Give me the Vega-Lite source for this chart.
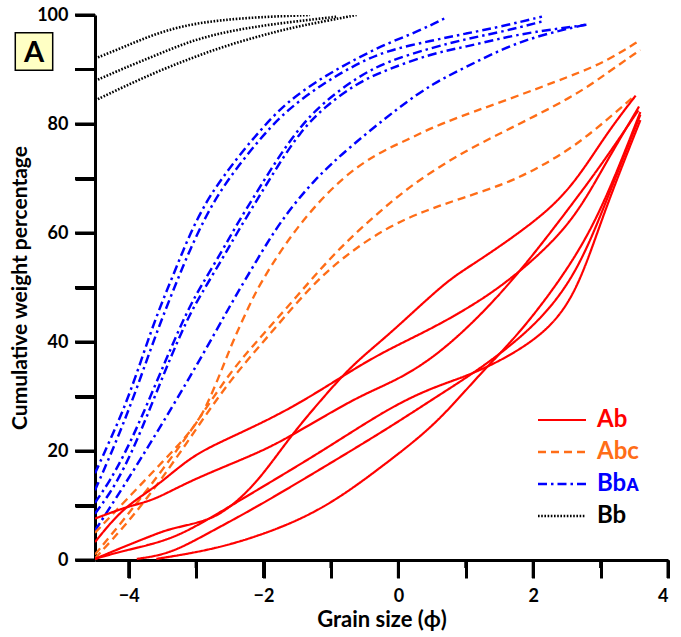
{
  "$schema": "https://vega.github.io/schema/vega-lite/v6.json",
  "width": 573,
  "height": 545,
  "autosize": "none",
  "padding": {"left": 95, "top": 15, "right": 13, "bottom": 77},
  "background": "white",
  "config": {
    "view": {"stroke": null},
    "axis": {
      "grid": false,
      "domainColor": "#000000",
      "domainWidth": 3,
      "labelFont": "Lato",
      "labelFontWeight": "bold",
      "labelFontSize": 18,
      "labelColor": "#000000",
      "titleFont": "Lato",
      "titleFontWeight": "bold",
      "titleColor": "#000000"
    }
  },
  "datasets": {
    "curves": [
      {"g":"Bb","s":"K1","x":-4.5,"y":92.0},{"g":"Bb","s":"K1","x":-4.08,"y":94.1},{"g":"Bb","s":"K1","x":-3.58,"y":96.7},{"g":"Bb","s":"K1","x":-3.09,"y":98.3},{"g":"Bb","s":"K1","x":-2.6,"y":99.1},{"g":"Bb","s":"K1","x":-2.1,"y":99.6},{"g":"Bb","s":"K1","x":-1.31,"y":100},
      {"g":"Bb","s":"K2","x":-4.5,"y":87.9},{"g":"Bb","s":"K2","x":-4.08,"y":90.2},{"g":"Bb","s":"K2","x":-3.58,"y":92.7},{"g":"Bb","s":"K2","x":-3.09,"y":95.2},{"g":"Bb","s":"K2","x":-2.6,"y":96.8},{"g":"Bb","s":"K2","x":-2.1,"y":97.9},{"g":"Bb","s":"K2","x":-1.61,"y":98.7},{"g":"Bb","s":"K2","x":-1.12,"y":99.4},{"g":"Bb","s":"K2","x":-0.9,"y":99.7},
      {"g":"Bb","s":"K3","x":-4.5,"y":84.3},{"g":"Bb","s":"K3","x":-4.08,"y":86.8},{"g":"Bb","s":"K3","x":-3.58,"y":89.6},{"g":"Bb","s":"K3","x":-3.09,"y":92.0},{"g":"Bb","s":"K3","x":-2.6,"y":94.2},{"g":"Bb","s":"K3","x":-2.1,"y":96.0},{"g":"Bb","s":"K3","x":-1.61,"y":97.6},{"g":"Bb","s":"K3","x":-1.12,"y":98.8},{"g":"Bb","s":"K3","x":-0.62,"y":100},

      {"g":"Bbᴀ","s":"B1","x":-4.5,"y":15.9},{"g":"Bbᴀ","s":"B1","x":-4.28,"y":21.9},{"g":"Bbᴀ","s":"B1","x":-4.08,"y":27.5},{"g":"Bbᴀ","s":"B1","x":-3.88,"y":34.2},{"g":"Bbᴀ","s":"B1","x":-3.68,"y":41.6},{"g":"Bbᴀ","s":"B1","x":-3.5,"y":47.5},{"g":"Bbᴀ","s":"B1","x":-3.29,"y":53.8},{"g":"Bbᴀ","s":"B1","x":-3.09,"y":59.9},{"g":"Bbᴀ","s":"B1","x":-2.84,"y":66.0},{"g":"Bbᴀ","s":"B1","x":-2.6,"y":70.3},{"g":"Bbᴀ","s":"B1","x":-2.3,"y":75.2},{"g":"Bbᴀ","s":"B1","x":-2.0,"y":79.5},{"g":"Bbᴀ","s":"B1","x":-1.66,"y":84.0},{"g":"Bbᴀ","s":"B1","x":-1.11,"y":88.7},{"g":"Bbᴀ","s":"B1","x":-0.62,"y":92.0},{"g":"Bbᴀ","s":"B1","x":-0.17,"y":94.8},{"g":"Bbᴀ","s":"B1","x":0.3,"y":97.0},{"g":"Bbᴀ","s":"B1","x":0.72,"y":99.6},
      {"g":"Bbᴀ","s":"B2","x":-4.5,"y":12.8},{"g":"Bbᴀ","s":"B2","x":-4.28,"y":19.0},{"g":"Bbᴀ","s":"B2","x":-4.08,"y":25.0},{"g":"Bbᴀ","s":"B2","x":-3.88,"y":31.5},{"g":"Bbᴀ","s":"B2","x":-3.68,"y":38.5},{"g":"Bbᴀ","s":"B2","x":-3.5,"y":44.5},{"g":"Bbᴀ","s":"B2","x":-3.29,"y":51.0},{"g":"Bbᴀ","s":"B2","x":-3.09,"y":57.0},{"g":"Bbᴀ","s":"B2","x":-2.84,"y":63.5},{"g":"Bbᴀ","s":"B2","x":-2.6,"y":68.5},{"g":"Bbᴀ","s":"B2","x":-2.3,"y":73.5},{"g":"Bbᴀ","s":"B2","x":-2.0,"y":78.0},{"g":"Bbᴀ","s":"B2","x":-1.66,"y":82.5},{"g":"Bbᴀ","s":"B2","x":-1.11,"y":87.5},{"g":"Bbᴀ","s":"B2","x":-0.62,"y":91.0},{"g":"Bbᴀ","s":"B2","x":-0.17,"y":93.5},{"g":"Bbᴀ","s":"B2","x":0.5,"y":95.3},{"g":"Bbᴀ","s":"B2","x":1.0,"y":96.6},{"g":"Bbᴀ","s":"B2","x":1.5,"y":97.8},{"g":"Bbᴀ","s":"B2","x":2.13,"y":99.7},
      {"g":"Bbᴀ","s":"B3","x":-4.5,"y":8.5},{"g":"Bbᴀ","s":"B3","x":-4.28,"y":12.2},{"g":"Bbᴀ","s":"B3","x":-4.08,"y":16.5},{"g":"Bbᴀ","s":"B3","x":-3.83,"y":23.2},{"g":"Bbᴀ","s":"B3","x":-3.44,"y":35.4},{"g":"Bbᴀ","s":"B3","x":-3.14,"y":44.0},{"g":"Bbᴀ","s":"B3","x":-2.94,"y":48.5},{"g":"Bbᴀ","s":"B3","x":-2.6,"y":55.5},{"g":"Bbᴀ","s":"B3","x":-2.4,"y":59.9},{"g":"Bbᴀ","s":"B3","x":-2.1,"y":66.0},{"g":"Bbᴀ","s":"B3","x":-1.8,"y":72.1},{"g":"Bbᴀ","s":"B3","x":-1.46,"y":78.5},{"g":"Bbᴀ","s":"B3","x":-1.11,"y":83.0},{"g":"Bbᴀ","s":"B3","x":-0.62,"y":87.5},{"g":"Bbᴀ","s":"B3","x":-0.17,"y":90.0},{"g":"Bbᴀ","s":"B3","x":0.52,"y":93.0},{"g":"Bbᴀ","s":"B3","x":1.01,"y":94.2},{"g":"Bbᴀ","s":"B3","x":1.51,"y":95.7},{"g":"Bbᴀ","s":"B3","x":2.0,"y":96.9},{"g":"Bbᴀ","s":"B3","x":2.79,"y":98.2},
      {"g":"Bbᴀ","s":"B4","x":-4.5,"y":10.5},{"g":"Bbᴀ","s":"B4","x":-4.28,"y":14.5},{"g":"Bbᴀ","s":"B4","x":-4.08,"y":19.0},{"g":"Bbᴀ","s":"B4","x":-3.83,"y":25.5},{"g":"Bbᴀ","s":"B4","x":-3.44,"y":37.0},{"g":"Bbᴀ","s":"B4","x":-3.14,"y":45.5},{"g":"Bbᴀ","s":"B4","x":-2.94,"y":50.0},{"g":"Bbᴀ","s":"B4","x":-2.6,"y":57.0},{"g":"Bbᴀ","s":"B4","x":-2.4,"y":61.5},{"g":"Bbᴀ","s":"B4","x":-2.1,"y":67.5},{"g":"Bbᴀ","s":"B4","x":-1.8,"y":73.5},{"g":"Bbᴀ","s":"B4","x":-1.46,"y":79.5},{"g":"Bbᴀ","s":"B4","x":-1.11,"y":84.0},{"g":"Bbᴀ","s":"B4","x":-0.62,"y":88.5},{"g":"Bbᴀ","s":"B4","x":-0.17,"y":91.5},{"g":"Bbᴀ","s":"B4","x":0.5,"y":94.0},{"g":"Bbᴀ","s":"B4","x":1.0,"y":95.6},{"g":"Bbᴀ","s":"B4","x":1.5,"y":96.8},{"g":"Bbᴀ","s":"B4","x":2.13,"y":98.8},
      {"g":"Bbᴀ","s":"B5","x":-4.5,"y":5.4},{"g":"Bbᴀ","s":"B5","x":-4.08,"y":13.4},{"g":"Bbᴀ","s":"B5","x":-3.59,"y":23.2},{"g":"Bbᴀ","s":"B5","x":-3.09,"y":33.6},{"g":"Bbᴀ","s":"B5","x":-2.7,"y":42.1},{"g":"Bbᴀ","s":"B5","x":-2.45,"y":47.7},{"g":"Bbᴀ","s":"B5","x":-2.1,"y":55.0},{"g":"Bbᴀ","s":"B5","x":-1.76,"y":62.0},{"g":"Bbᴀ","s":"B5","x":-1.26,"y":69.7},{"g":"Bbᴀ","s":"B5","x":-0.72,"y":75.8},{"g":"Bbᴀ","s":"B5","x":0.02,"y":83.2},{"g":"Bbᴀ","s":"B5","x":0.52,"y":87.5},{"g":"Bbᴀ","s":"B5","x":1.01,"y":90.5},{"g":"Bbᴀ","s":"B5","x":1.56,"y":93.9},{"g":"Bbᴀ","s":"B5","x":2.1,"y":96.3},{"g":"Bbᴀ","s":"B5","x":2.8,"y":98.3},

      {"g":"Abᴄ","s":"O1","x":-4.5,"y":5.0},{"g":"Abᴄ","s":"O1","x":-4.0,"y":11.5},{"g":"Abᴄ","s":"O1","x":-3.5,"y":18.0},{"g":"Abᴄ","s":"O1","x":-3.0,"y":24.5},{"g":"Abᴄ","s":"O1","x":-2.8,"y":29.5},{"g":"Abᴄ","s":"O1","x":-2.6,"y":35.5},{"g":"Abᴄ","s":"O1","x":-2.45,"y":40.3},{"g":"Abᴄ","s":"O1","x":-2.2,"y":47.0},{"g":"Abᴄ","s":"O1","x":-2.05,"y":50.7},{"g":"Abᴄ","s":"O1","x":-1.71,"y":57.5},{"g":"Abᴄ","s":"O1","x":-1.31,"y":64.0},{"g":"Abᴄ","s":"O1","x":-0.82,"y":70.3},{"g":"Abᴄ","s":"O1","x":-0.32,"y":74.6},{"g":"Abᴄ","s":"O1","x":0.12,"y":77.0},{"g":"Abᴄ","s":"O1","x":0.62,"y":80.1},{"g":"Abᴄ","s":"O1","x":1.61,"y":84.4},{"g":"Abᴄ","s":"O1","x":2.6,"y":89.0},{"g":"Abᴄ","s":"O1","x":3.09,"y":91.5},{"g":"Abᴄ","s":"O1","x":3.59,"y":95.4},
      {"g":"Abᴄ","s":"O2","x":-4.5,"y":1.0},{"g":"Abᴄ","s":"O2","x":-4.0,"y":8.5},{"g":"Abᴄ","s":"O2","x":-3.5,"y":16.5},{"g":"Abᴄ","s":"O2","x":-3.0,"y":25.0},{"g":"Abᴄ","s":"O2","x":-2.5,"y":34.5},{"g":"Abᴄ","s":"O2","x":-2.0,"y":41.5},{"g":"Abᴄ","s":"O2","x":-1.51,"y":48.3},{"g":"Abᴄ","s":"O2","x":-0.96,"y":56.2},{"g":"Abᴄ","s":"O2","x":-0.37,"y":63.0},{"g":"Abᴄ","s":"O2","x":0.22,"y":69.1},{"g":"Abᴄ","s":"O2","x":0.92,"y":74.6},{"g":"Abᴄ","s":"O2","x":1.61,"y":78.9},{"g":"Abᴄ","s":"O2","x":2.6,"y":85.0},{"g":"Abᴄ","s":"O2","x":3.09,"y":89.3},{"g":"Abᴄ","s":"O2","x":3.59,"y":93.6},
      {"g":"Abᴄ","s":"O3","x":-4.5,"y":0.3},{"g":"Abᴄ","s":"O3","x":-4.0,"y":7.0},{"g":"Abᴄ","s":"O3","x":-3.5,"y":15.0},{"g":"Abᴄ","s":"O3","x":-3.0,"y":24.0},{"g":"Abᴄ","s":"O3","x":-2.5,"y":33.0},{"g":"Abᴄ","s":"O3","x":-1.9,"y":41.5},{"g":"Abᴄ","s":"O3","x":-1.31,"y":50.1},{"g":"Abᴄ","s":"O3","x":-0.82,"y":55.6},{"g":"Abᴄ","s":"O3","x":-0.17,"y":61.1},{"g":"Abᴄ","s":"O3","x":0.42,"y":64.2},{"g":"Abᴄ","s":"O3","x":0.92,"y":66.3},{"g":"Abᴄ","s":"O3","x":1.61,"y":69.1},{"g":"Abᴄ","s":"O3","x":2.1,"y":72.1},{"g":"Abᴄ","s":"O3","x":2.6,"y":75.8},{"g":"Abᴄ","s":"O3","x":3.09,"y":80.7},{"g":"Abᴄ","s":"O3","x":3.49,"y":85.0},

      {"g":"Ab","s":"R1","x":-4.5,"y":7.6},{"g":"Ab","s":"R1","x":-3.98,"y":10.0},{"g":"Ab","s":"R1","x":-3.63,"y":10.9},{"g":"Ab","s":"R1","x":-3.09,"y":14.6},{"g":"Ab","s":"R1","x":-2.1,"y":19.5},{"g":"Ab","s":"R1","x":-1.61,"y":22.6},{"g":"Ab","s":"R1","x":-0.62,"y":29.9},{"g":"Ab","s":"R1","x":-0.12,"y":32.4},{"g":"Ab","s":"R1","x":0.57,"y":37.2},{"g":"Ab","s":"R1","x":1.56,"y":48.9},{"g":"Ab","s":"R1","x":2.55,"y":64.8},{"g":"Ab","s":"R1","x":3.04,"y":73.0},{"g":"Ab","s":"R1","x":3.56,"y":82.5},
      {"g":"Ab","s":"R2","x":-4.5,"y":3.3},{"g":"Ab","s":"R2","x":-4.08,"y":9.7},{"g":"Ab","s":"R2","x":-3.59,"y":13.4},{"g":"Ab","s":"R2","x":-3.09,"y":18.9},{"g":"Ab","s":"R2","x":-2.6,"y":21.9},{"g":"Ab","s":"R2","x":-1.61,"y":27.5},{"g":"Ab","s":"R2","x":-0.62,"y":35.4},{"g":"Ab","s":"R2","x":-0.12,"y":38.8},{"g":"Ab","s":"R2","x":0.5,"y":42.5},{"g":"Ab","s":"R2","x":1.06,"y":46.4},{"g":"Ab","s":"R2","x":1.66,"y":51.3},{"g":"Ab","s":"R2","x":2.55,"y":61.1},{"g":"Ab","s":"R2","x":3.04,"y":72.1},{"g":"Ab","s":"R2","x":3.57,"y":83.2},
      {"g":"Ab","s":"R3","x":-4.5,"y":0.2},{"g":"Ab","s":"R3","x":-4.08,"y":2.4},{"g":"Ab","s":"R3","x":-3.59,"y":4.8},{"g":"Ab","s":"R3","x":-3.39,"y":5.7},{"g":"Ab","s":"R3","x":-2.94,"y":6.9},{"g":"Ab","s":"R3","x":-2.6,"y":8.5},{"g":"Ab","s":"R3","x":-2.1,"y":14.0},{"g":"Ab","s":"R3","x":-1.61,"y":22.6},{"g":"Ab","s":"R3","x":-1.11,"y":29.9},{"g":"Ab","s":"R3","x":-0.67,"y":36.0},{"g":"Ab","s":"R3","x":-0.12,"y":41.5},{"g":"Ab","s":"R3","x":0.72,"y":51.3},{"g":"Ab","s":"R3","x":1.06,"y":53.8},{"g":"Ab","s":"R3","x":2.15,"y":63.0},{"g":"Ab","s":"R3","x":2.65,"y":69.7},{"g":"Ab","s":"R3","x":3.09,"y":78.3},{"g":"Ab","s":"R3","x":3.52,"y":85.2},
      {"g":"Ab","s":"R4","x":-4.5,"y":0.2},{"g":"Ab","s":"R4","x":-4.08,"y":1.7},{"g":"Ab","s":"R4","x":-3.39,"y":3.6},{"g":"Ab","s":"R4","x":-2.84,"y":7.3},{"g":"Ab","s":"R4","x":-2.1,"y":12.8},{"g":"Ab","s":"R4","x":-1.11,"y":20.1},{"g":"Ab","s":"R4","x":-0.12,"y":28.1},{"g":"Ab","s":"R4","x":0.57,"y":32.0},{"g":"Ab","s":"R4","x":1.21,"y":34.5},{"g":"Ab","s":"R4","x":2.15,"y":40.9},{"g":"Ab","s":"R4","x":2.65,"y":48.9},{"g":"Ab","s":"R4","x":3.04,"y":63.6},{"g":"Ab","s":"R4","x":3.59,"y":80.7},
      {"g":"Ab","s":"R5","x":-3.88,"y":0.2},{"g":"Ab","s":"R5","x":-3.39,"y":1.1},{"g":"Ab","s":"R5","x":-2.84,"y":4.8},{"g":"Ab","s":"R5","x":-2.1,"y":9.7},{"g":"Ab","s":"R5","x":-1.11,"y":17.0},{"g":"Ab","s":"R5","x":-0.12,"y":24.4},{"g":"Ab","s":"R5","x":0.57,"y":30.0},{"g":"Ab","s":"R5","x":1.21,"y":35.0},{"g":"Ab","s":"R5","x":2.05,"y":43.0},{"g":"Ab","s":"R5","x":2.65,"y":52.5},{"g":"Ab","s":"R5","x":3.09,"y":66.0},{"g":"Ab","s":"R5","x":3.59,"y":81.7},
      {"g":"Ab","s":"R6","x":-3.59,"y":0.2},{"g":"Ab","s":"R6","x":-2.84,"y":1.7},{"g":"Ab","s":"R6","x":-2.1,"y":4.2},{"g":"Ab","s":"R6","x":-1.11,"y":9.1},{"g":"Ab","s":"R6","x":-0.12,"y":18.3},{"g":"Ab","s":"R6","x":0.57,"y":25.0},{"g":"Ab","s":"R6","x":1.21,"y":34.2},{"g":"Ab","s":"R6","x":1.8,"y":41.5},{"g":"Ab","s":"R6","x":2.55,"y":53.8},{"g":"Ab","s":"R6","x":3.04,"y":64.8},{"g":"Ab","s":"R6","x":3.59,"y":82.2}
    ],
    "xmajor": [{"v": -4}, {"v": -2}, {"v": 0}, {"v": 2}, {"v": 4}],
    "xminor": [{"v": -3}, {"v": -1}, {"v": 1}, {"v": 3}],
    "yticks": [{"v": 0}, {"v": 10}, {"v": 20}, {"v": 30}, {"v": 40}, {"v": 50}, {"v": 60}, {"v": 70}, {"v": 80}, {"v": 90}, {"v": 100}],
    "panel": [{"label": "A"}]
  },
  "layer": [
    {
      "data": {"name": "curves"},
      "mark": {"type": "line", "interpolate": "basis", "clip": true},
      "encoding": {
        "x": {
          "field": "x", "type": "quantitative",
          "scale": {"domain": [-4.5, 4], "nice": false, "zero": false},
          "axis": {
            "title": "Grain size (ϕ)",
            "titleFontSize": 22,
            "format": "d",
            "values": [-4, -3, -2, -1, 0, 1, 2, 3, 4],
            "labelExpr": "datum.value % 2 === 0 ? datum.label : ''",
            "tickColor": "#000000",
            "tickWidth": 3,
            "tickSize": 18,
            "labelPadding": 9,
            "titlePadding": 4
          }
        },
        "y": {
          "field": "y", "type": "quantitative",
          "scale": {"domain": [0, 100], "nice": false},
          "axis": {
            "title": "Cumulative weight percentage",
            "titleFontSize": 21,
            "format": "d",
            "values": [0, 10, 20, 30, 40, 50, 60, 70, 80, 90, 100],
            "labelExpr": "datum.value % 20 === 0 ? datum.label : ''",
            "tickColor": "#000000",
            "tickWidth": 3,
            "tickSize": 20,
            "labelPadding": 7,
            "titlePadding": 6
          }
        },
        "color": {
          "field": "g", "type": "nominal",
          "scale": {"domain": ["Ab", "Abᴄ", "Bbᴀ", "Bb"], "range": ["#ff0000", "#ff6d17", "#0000ff", "#000000"]},
          "legend": {
            "title": null,
            "orient": "none",
            "legendX": 455,
            "legendY": 393,
            "padding": 0,
            "symbolType": "M-4.8,0H4.8",
            "symbolSize": 100,
            "symbolStrokeWidth": 2.5,
            "labelOffset": 23,
            "labelFont": "Lato",
            "labelFontWeight": "bold",
            "labelFontSize": 24,
            "rowPadding": 8,
            "encode": {
              "labels": {
                "update": {
                  "fill": {"signal": "datum.value === 'Ab' ? '#ff0000' : datum.value === 'Abᴄ' ? '#ff6d17' : datum.value === 'Bbᴀ' ? '#0000ff' : '#000000'"}
                }
              }
            }
          }
        },
        "strokeDash": {
          "field": "g", "type": "nominal",
          "scale": {"domain": ["Ab", "Abᴄ", "Bbᴀ", "Bb"], "range": [[1, 0], [8, 5], [9, 4, 2.5, 4], [1.6, 1.6]]}
        },
        "strokeWidth": {
          "field": "g", "type": "nominal",
          "scale": {"domain": ["Ab", "Abᴄ", "Bbᴀ", "Bb"], "range": [2.2, 2.6, 2.6, 2]},
          "legend": null
        },
        "detail": {"field": "s", "type": "nominal"}
      }
    },
    {
      "data": {"name": "xmajor"},
      "mark": {"type": "tick", "orient": "vertical", "size": 18, "thickness": 3, "yOffset": 9, "color": "#000000", "opacity": 1},
      "encoding": {
        "x": {"field": "v", "type": "quantitative"},
        "y": {"datum": 0, "type": "quantitative"}
      }
    },
    {
      "data": {"name": "xminor"},
      "mark": {"type": "tick", "orient": "vertical", "size": 8, "thickness": 3, "yOffset": 4, "color": "#000000", "opacity": 1},
      "encoding": {
        "x": {"field": "v", "type": "quantitative"},
        "y": {"datum": 0, "type": "quantitative"}
      }
    },
    {
      "data": {"name": "yticks"},
      "mark": {"type": "tick", "orient": "horizontal", "size": 20, "thickness": 3, "xOffset": -10, "color": "#000000", "opacity": 1},
      "encoding": {
        "x": {"datum": -4.5, "type": "quantitative"},
        "y": {"field": "v", "type": "quantitative"}
      }
    },
    {
      "data": {"name": "panel"},
      "mark": {"type": "point", "shape": "square", "filled": true, "fill": "#ffffc4", "stroke": "#000000", "strokeWidth": 1.5, "opacity": 1, "size": 1400},
      "encoding": {
        "x": {"datum": -5.405, "type": "quantitative"},
        "y": {"datum": 93.3, "type": "quantitative"}
      }
    },
    {
      "data": {"name": "panel"},
      "mark": {"type": "text", "font": "Lato", "fontWeight": "bold", "fontSize": 29, "color": "black", "baseline": "middle", "align": "center", "dy": 1},
      "encoding": {
        "x": {"datum": -5.405, "type": "quantitative"},
        "y": {"datum": 93.3, "type": "quantitative"},
        "text": {"field": "label"}
      }
    }
  ]
}
